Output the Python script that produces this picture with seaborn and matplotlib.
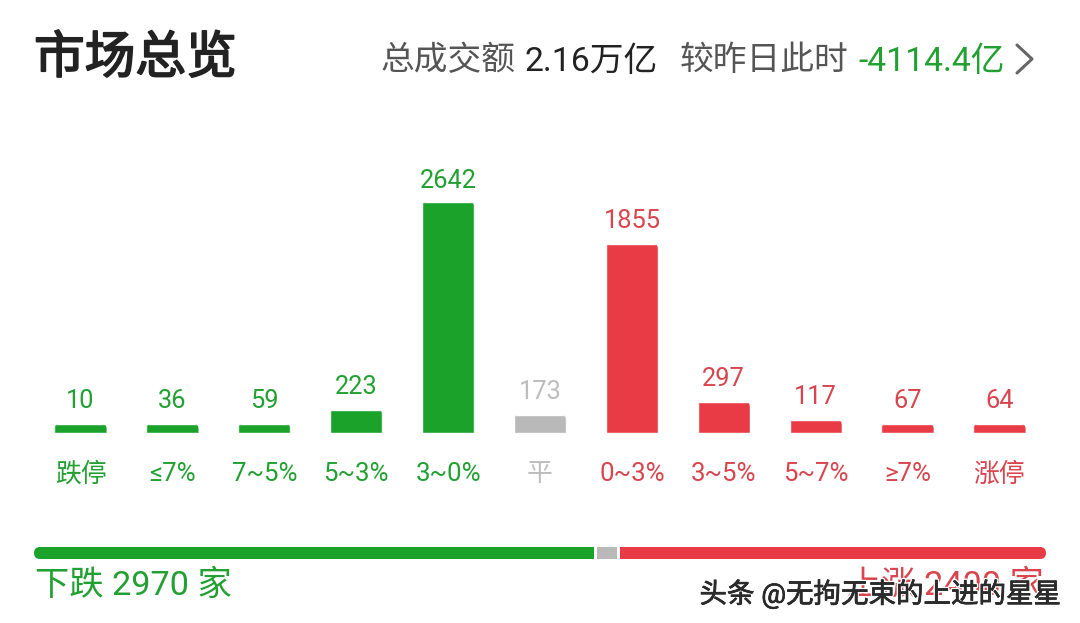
import matplotlib
matplotlib.use("Agg")
import matplotlib.pyplot as plt
import matplotlib.patheffects as pe
from matplotlib.patches import FancyBboxPatch, Rectangle
import seaborn as sns
import pandas as pd

labels = ["跌停", "≤7%", "7~5%", "5~3%", "3~0%", "平", "0~3%", "3~5%", "5~7%", "≥7%", "涨停"]
values = [10, 36, 59, 223, 2642, 173, 1855, 297, 117, 67, 64]
# drawn bar heights (the app does not scale them linearly)
heights = [9, 9, 9, 23, 231, 18, 189, 31, 13, 9, 9]
kinds = ["d"] * 5 + ["f"] + ["u"] * 5
down_count, up_count = 2970, 2400
turnover = "2.16万亿"
change = "-4114.4亿"

GREEN, GREY, RED = "#1aa22a", "#b9b9b9", "#e93b45"
palette = {"d": GREEN, "f": GREY, "u": RED}
text_pal = {"d": "#22a032", "f": "#bdbdbd", "u": "#d9454e"}
FONT = ['Roboto', 'Noto Sans CJK SC', 'DejaVu Sans']

sns.set_theme(style="white")
plt.rcParams['font.family'] = FONT

fig = plt.figure(figsize=(10.8, 6.23), dpi=100, facecolor="white")
bg = fig.add_axes([0, 0, 1, 1])
bg.set_xlim(0, 1080)
bg.set_ylim(623, 0)
bg.axis("off")

ax = fig.add_axes([0, (623 - 433) / 623, 1, 260 / 623])
ax.patch.set_alpha(0)
df = pd.DataFrame({"label": labels, "h": heights, "kind": kinds})
sns.barplot(data=df, x="label", y="h", hue="kind", palette=palette, dodge=False,
            legend=False, ax=ax, width=0.57, saturation=1)
ax.set_xlim(-0.876, 10.876)
ax.set_ylim(0, 260)
ax.axis("off")

# soften the top corners of each bar
fig.canvas.draw()
for bar in ax.patches:
    if bar.get_height() <= 0:
        continue
    bb = bar.get_window_extent()
    clip = FancyBboxPatch((bb.x0, bb.y0 - 8), bb.width, bb.height + 8,
                          boxstyle="round,pad=0,rounding_size=5", transform=None)
    bar.set_clip_path(clip.get_path(), clip.get_transform())

for i, (v, h, k) in enumerate(zip(values, heights, kinds)):
    gap = 6.5 if v == max(values) else 8.2
    ax.annotate(str(v), (i, h), xytext=(0.0, gap), textcoords="offset points", ha="center",
                va="bottom", fontsize=18.3, color=text_pal[k])
    ax.annotate(labels[i], (i, 0), xytext=(0, -21), textcoords="offset points", ha="center",
                va="top", fontsize=18.6, color=text_pal[k])

bg.text(34, 59, "市场总览", fontsize=36.5, color="#222222", va="center", ha="left",
        path_effects=[pe.withStroke(linewidth=1.3, foreground="#222222")])
bg.text(381, 61, "总成交额", fontsize=24.3, color="#555555", va="center")
bg.text(525, 62, turnover, fontsize=24.3, color="#222222", va="center")
bg.text(680, 61, "较昨日此时", fontsize=24.3, color="#555555", va="center")
bg.text(858, 62, change, fontsize=24.3, color="#22a032", va="center")
bg.plot([1017, 1032, 1017], [45, 59, 73], color="#666666", lw=2.2)

# ratio strip below the bars
bg.add_patch(FancyBboxPatch((34, 547), 60, 12, boxstyle="round,pad=0,rounding_size=6", fc=GREEN, lw=0))
bg.add_patch(Rectangle((50, 547), 544, 12, fc=GREEN, lw=0))
bg.add_patch(Rectangle((597, 547), 20, 12, fc=GREY, lw=0))
bg.add_patch(Rectangle((620, 547), 410, 12, fc=RED, lw=0))
bg.add_patch(FancyBboxPatch((986, 547), 60, 12, boxstyle="round,pad=0,rounding_size=6", fc=RED, lw=0))

bg.text(35, 586, f"下跌 {down_count} 家", fontsize=24.7, color="#22a032", va="center")
bg.text(1044, 586, f"上涨 {up_count} 家", fontsize=24.7, color="#d9454e", va="center", ha="right")
bg.text(1061, 594, "头条 @无拘无束的上进的星星", fontsize=19.8, color="#2b2b2b", va="center", ha="right",
        zorder=5, path_effects=[pe.withStroke(linewidth=2.5, foreground="white"),
                                pe.withStroke(linewidth=0.5, foreground="#2b2b2b")])
fig.savefig("out.png", dpi=100)
